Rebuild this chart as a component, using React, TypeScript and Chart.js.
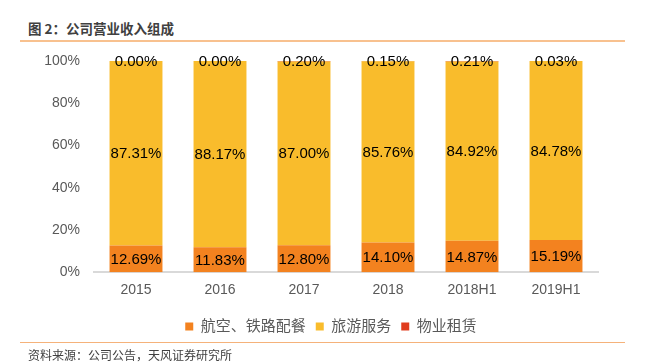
import React, { useEffect, useRef } from "react";
import { Chart, registerables } from "chart.js";

Chart.register(...registerables);

const categories = ["2015", "2016", "2017", "2018", "2018H1", "2019H1"];
const cateringValues = [12.69, 11.83, 12.8, 14.1, 14.87, 15.19];
const tourismValues = [87.31, 88.17, 87.0, 85.76, 84.92, 84.78];
const leasingValues = [0.0, 0.0, 0.2, 0.15, 0.21, 0.03];
const seriesNames = ["航空、铁路配餐", "旅游服务", "物业租赁"];
const seriesColors = ["#F3821F", "#F9BC2C", "#E03C1E"];
const yTicks = [0, 20, 40, 60, 80, 100];

const FONT = "'Liberation Sans', Arial, 'Noto Sans CJK SC', sans-serif";

const labelPlugin = {
  id: "segLabels",
  afterLayout(chart: any) {
    if (chart.legend) chart.legend.left += 24;
  },
  afterDatasetsDraw(chart: any) {
    const ctx = chart.ctx;
    ctx.save();
    ctx.font = `15px ${FONT}`;
    ctx.fillStyle = "#000000";
    ctx.textAlign = "center";
    ctx.textBaseline = "middle";
    chart.data.datasets.forEach((ds: any, di: number) => {
      const meta = chart.getDatasetMeta(di);
      meta.data.forEach((bar: any, i: number) => {
        const v = ds.data[i] as number;
        const y = (bar.y + bar.base) / 2;
        ctx.fillText(v.toFixed(2) + "%", bar.x, y + 1);
      });
    });
    ctx.restore();
  },
};

export default function App() {
  const ref = useRef<HTMLCanvasElement | null>(null);
  useEffect(() => {
    if (!ref.current) return;
    const chart = new Chart(ref.current, {
      type: "bar",
      data: {
        labels: categories,
        datasets: [
          { label: seriesNames[0], data: cateringValues, backgroundColor: seriesColors[0] },
          { label: seriesNames[1], data: tourismValues, backgroundColor: seriesColors[1] },
          { label: seriesNames[2], data: leasingValues, backgroundColor: seriesColors[2] },
        ],
      },
      options: {
        animation: false,
        responsive: false,
        maintainAspectRatio: false,
        layout: { padding: { left: 40, right: 47, top: 61, bottom: 18 } },
        datasets: { bar: { categoryPercentage: 1, barPercentage: 0.63 } },
        scales: {
          x: {
            stacked: true,
            grid: { display: false, drawTicks: false },
            border: { display: true, color: "#D9D9D9", width: 2 },
            ticks: { color: "#595959", font: { family: FONT, size: 14 }, padding: 10 },
          },
          y: {
            stacked: true,
            min: 0,
            max: 100,
            afterFit: (s: any) => { s.width = 54; },
            afterBuildTicks: (s: any) => { s.ticks = yTicks.map((v) => ({ value: v })); },
            grid: { display: false, drawTicks: false },
            border: { display: false },
            ticks: {
              color: "#595959",
              font: { family: FONT, size: 14 },
              padding: 14,
              callback: (v: any) => v + "%",
            },
          },
        } as any,
        plugins: {
          legend: {
            position: "bottom",
            labels: {
              boxWidth: 8,
              boxHeight: 8,
              color: "#595959",
              font: { family: FONT, size: 15 },
              padding: 10,
            },
          },
          tooltip: { enabled: false },
        },
      },
      plugins: [labelPlugin],
    });
    return () => chart.destroy();
  }, []);

  return (
    <div style={{ position: "absolute", left: 0, top: 0, width: 645, height: 362, background: "#fff", fontFamily: FONT }}>
      <div style={{ position: "absolute", left: 28, top: 19, fontSize: 13.5, fontWeight: "bold", color: "#404040", fontFamily: "'Noto Sans CJK SC', sans-serif", lineHeight: "18px" }}>
        图 2：公司营业收入组成
      </div>
      <div style={{ position: "absolute", left: 20, top: 40, width: 605, height: 2, background: "#F8C18F" }} />
      <canvas ref={ref} width={645} height={362} style={{ position: "absolute", left: 0, top: 0 }} />
      <div style={{ position: "absolute", left: 20, top: 342, width: 605, height: 1, background: "#F5B27A" }} />
      <div style={{ position: "absolute", left: 28, top: 346, fontSize: 12, color: "#404040", fontFamily: "'Noto Sans CJK SC', sans-serif", lineHeight: "17px" }}>
        资料来源：公司公告，天风证券研究所
      </div>
    </div>
  );
}
